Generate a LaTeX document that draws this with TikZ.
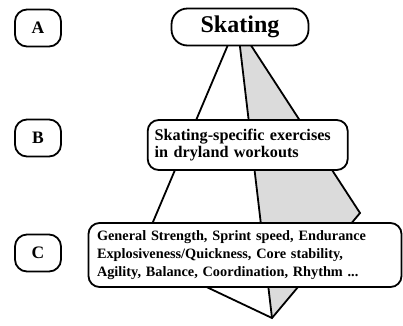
\documentclass[tikz,border=0pt]{standalone}
\usepackage{fontspec}
\setmainfont{Liberation Serif}
\begin{document}
\begin{tikzpicture}[x=1pt,y=-1pt,line width=1.8pt,
  box/.style={draw=black,fill=white,rounded corners=11pt,line width=1.8pt,inner sep=0pt},
  lbl/.style={box,rounded corners=12pt,minimum width=46pt,minimum height=37pt,font=\fontsize{17.5}{17.5}\selectfont\bfseries},
  txtbox/.style={box,align=left,font=\bfseries}]
\useasboundingbox (0,0) rectangle (403,325);
% pyramid
\coordinate (tl) at (230,40);
\coordinate (tm) at (239.2,40);
\coordinate (tr) at (247.5,40);
\coordinate (rv) at (360,213);
\coordinate (bt) at (272,318);
\coordinate (lv) at (139,255);
\fill[gray!28] (tm) -- (tr) -- (rv) -- (bt) -- cycle;
\draw[line join=miter] (tl) -- (lv) -- (bt) -- (rv) -- (tr);
\draw (tm) -- (bt);
% labels
\node[lbl] (A) at (38,28) {A};
\node[lbl] (B) at (38,138) {B};
\node[lbl] (C) at (38,253) {C};
% boxes
\node[box,rounded corners=16pt,minimum width=137pt,minimum height=37pt,
  font=\fontsize{24}{24}\selectfont\bfseries] (S) at (240,27) {Skating};
\node[txtbox,text width=186pt,inner xsep=7pt,minimum height=50pt,
  font=\fontsize{16.2}{17.7}\selectfont\bfseries] (D) at (247.7,145)
  {Skating-specific exercises\\in dryland workouts};
\node[txtbox,text width=296pt,inner xsep=8.5pt,minimum height=64pt,
  font=\fontsize{14.3}{18.3}\selectfont\bfseries] (G) at (245,255)
  {General Strength, Sprint speed, Endurance\\Explosiveness/Quickness, Core stability,\\Agility, Balance, Coordination, Rhythm ...};
\end{tikzpicture}
\end{document}
